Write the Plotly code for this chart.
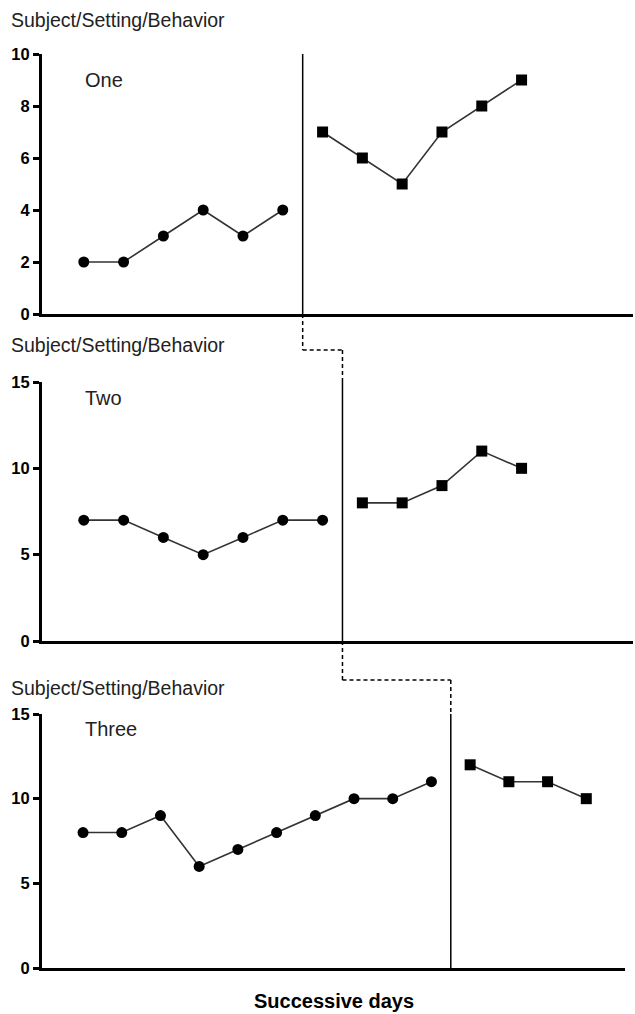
import plotly.graph_objects as go

# ---------------- data ----------------
panel_names = ["One", "Two", "Three"]
ylabel = "Subject/Setting/Behavior"
xlabel = "Successive days"

base1 = [2, 2, 3, 4, 3, 4]
treat1 = [7, 6, 5, 7, 8, 9]
base2 = [7, 7, 6, 5, 6, 7, 7]
treat2 = [8, 8, 9, 11, 10]
base3 = [8, 8, 9, 6, 7, 8, 9, 10, 10, 11]
treat3 = [12, 11, 11, 10]

y_max = [10, 15, 15]
y_ticks = [[0, 2, 4, 6, 8, 10], [0, 5, 10, 15], [0, 5, 10, 15]]

# ---------------- layout geometry ----------------
W, H = 635, 1014
def px_x(p):
    return p / W
def px_y(p):
    return 1 - p / H

x_doms = [[px_x(42), px_x(633)], [px_x(42), px_x(633)], [px_x(42), px_x(625)]]
x_rngs = [[-0.05, 14.8], [-0.05, 14.8], [-0.06, 15.0]]
y_doms = [[px_y(314), px_y(54)], [px_y(641), px_y(382)], [px_y(968), px_y(714)]]

def to_paper_x(v, i):
    d, r = x_doms[i], x_rngs[i]
    return d[0] + (v - r[0]) / (r[1] - r[0]) * (d[1] - d[0])

fig = go.Figure()
bases = [base1, base2, base3]
treats = [treat1, treat2, treat3]
phase_x = []
for i in range(3):
    b, t = bases[i], treats[i]
    xb = list(range(1, len(b) + 1))
    xt = list(range(len(b) + 1, len(b) + len(t) + 1))
    phase_x.append(len(b) + 0.5)
    xa = "x" if i == 0 else f"x{i+1}"
    ya = "y" if i == 0 else f"y{i+1}"
    fig.add_trace(go.Scatter(x=xb, y=b, xaxis=xa, yaxis=ya, mode="lines+markers",
                             line=dict(color="#333333", width=1.6),
                             marker=dict(symbol="circle", size=11, color="black"),
                             cliponaxis=False, showlegend=False))
    fig.add_trace(go.Scatter(x=xt, y=t, xaxis=xa, yaxis=ya, mode="lines+markers",
                             line=dict(color="#333333", width=1.6),
                             marker=dict(symbol="square", size=11, color="black"),
                             cliponaxis=False, showlegend=False))
    # phase change line
    fig.add_shape(type="line", xref=xa, yref=ya, x0=phase_x[i], x1=phase_x[i],
                  y0=0, y1=y_max[i], line=dict(color="black", width=1.5))

layout = dict(width=W, height=H, margin=dict(l=0, r=0, t=0, b=0),
              plot_bgcolor="white", paper_bgcolor="white", showlegend=False,
              template="none")
for i in range(3):
    xk = "xaxis" if i == 0 else f"xaxis{i+1}"
    yk = "yaxis" if i == 0 else f"yaxis{i+1}"
    ya = "y" if i == 0 else f"y{i+1}"
    xa = "x" if i == 0 else f"x{i+1}"
    layout[xk] = dict(domain=x_doms[i], range=x_rngs[i], anchor=ya,
                      showline=True, linecolor="black", linewidth=3,
                      showticklabels=False, ticks="", showgrid=False,
                      zeroline=False, automargin=False, fixedrange=True)
    layout[yk] = dict(domain=y_doms[i], range=[0, y_max[i]], anchor=xa,
                      tickvals=y_ticks[i], ticktext=[str(v) for v in y_ticks[i]],
                      showline=True, linecolor="black", linewidth=3,
                      ticks="outside", ticklen=6, tickwidth=2.5, tickcolor="black",
                      tickfont=dict(family="Liberation Sans", size=16.5, color="black",
                                    weight="bold"),
                      showgrid=False, zeroline=False, automargin=False, fixedrange=True)
fig.update_layout(**layout)

# dashed connectors between phase lines
dash = dict(color="black", width=1.5, dash="4px,3px")
mid12 = px_y(350)
mid23 = px_y(680)
xp1 = to_paper_x(phase_x[0], 0)
xp2 = to_paper_x(phase_x[1], 1)
xp3 = to_paper_x(phase_x[2], 2)
segs = [
    (xp1, y_doms[0][0], xp1, mid12),
    (xp1, mid12, xp2, mid12),
    (xp2, mid12, xp2, y_doms[1][1]),
    (xp2, y_doms[1][0], xp2, mid23),
    (xp2, mid23, xp3, mid23),
    (xp3, mid23, xp3, y_doms[2][1]),
]
for x0, y0, x1, y1 in segs:
    fig.add_shape(type="line", xref="paper", yref="paper", x0=x0, y0=y0, x1=x1, y1=y1,
                  line=dash)

# texts
ylab_y = [20, 345, 688]
name_y = [80, 398, 729]
for i in range(3):
    fig.add_annotation(text=ylabel, xref="paper", yref="paper", x=px_x(9), y=px_y(ylab_y[i]),
                       xanchor="left", yanchor="middle", showarrow=False,
                       font=dict(family="Liberation Sans", size=19.5, color="#222222"))
    fig.add_annotation(text=panel_names[i], xref="paper", yref="paper", x=px_x(83),
                       y=px_y(name_y[i]), xanchor="left", yanchor="middle", showarrow=False,
                       font=dict(family="Liberation Sans", size=20, color="#222222"))

fig.add_annotation(text=xlabel, xref="paper", yref="paper", x=px_x(334), y=px_y(1001),
                   xanchor="center", yanchor="middle", showarrow=False,
                   font=dict(family="Liberation Sans", size=20, color="black", weight="bold"))

fig.write_html("out.html", config={"displayModeBar": False},
               post_script="document.body.style.margin='0';document.body.style.overflow='hidden';")
